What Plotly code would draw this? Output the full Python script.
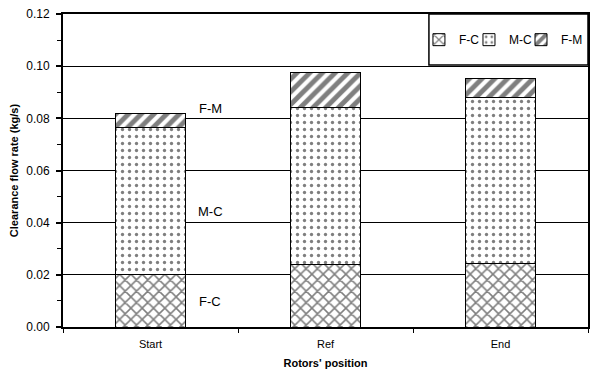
import plotly.graph_objects as go

categories = ["Start", "Ref", "End"]
fc = [0.0202, 0.0238, 0.0245]
mc = [0.0564, 0.0604, 0.0633]
fm = [0.0051, 0.0132, 0.0073]
y_ticks = [0.00, 0.02, 0.04, 0.06, 0.08, 0.10, 0.12]

FONT = "Liberation Sans, Arial, sans-serif"

fig = go.Figure()
series = [("F-C", fc, "x", 0.35, 8, "legend"), ("M-C", mc, ".", 0.18, 7, "legend2"),
          ("F-M", fm, "/", 0.55, 9, "legend3")]
for name, vals, shape, sol, size, leg in series:
    fig.add_trace(go.Bar(
        x=categories, y=vals, name=name, legend=leg,
        marker=dict(color="white",
                    line=dict(color="black", width=1),
                    pattern=dict(shape=shape, fgcolor="black", bgcolor="white",
                                 solidity=sol, size=size)),
    ))

for txt, yv in [("F-M", 0.0837), ("M-C", 0.0443), ("F-C", 0.0096)]:
    fig.add_annotation(x=0.34, y=yv, xref="x", yref="y", text=txt, showarrow=False,
                       xanchor="center", font=dict(size=13, color="black", family=FONT))

# legend frame
fig.add_shape(type="rect", xref="paper", yref="paper", x0=0.697, x1=1.0, y0=0.837, y1=1.0,
              line=dict(color="black", width=1.5), fillcolor="white", layer="above")

def leg(xpos):
    return dict(orientation="h", x=xpos, xanchor="left", y=0.918, yanchor="middle",
                borderwidth=0, bgcolor="rgba(0,0,0,0)", font=dict(size=12),
                itemwidth=30)

fig.update_layout(
    width=591, height=372,
    margin=dict(l=63, r=3, t=14, b=45, autoexpand=False),
    barmode="stack", bargap=0.6,
    plot_bgcolor="white", paper_bgcolor="white",
    font=dict(family=FONT, size=11, color="black"),
    showlegend=True,
    legend=leg(0.678), legend2=leg(0.7733), legend3=leg(0.8724),
    xaxis=dict(showline=True, linecolor="black", linewidth=2, mirror=True,
               ticks="outside", tickson="boundaries", ticklen=4, tickwidth=1,
               tickcolor="black", showgrid=False, ticklabelstandoff=6,
               tickfont=dict(size=11),
               title=dict(text="<b>Rotors' position</b>", font=dict(size=11), standoff=10)),
    yaxis=dict(range=[0, 0.12], tickvals=y_ticks, tickformat=".2f",
               showline=True, linecolor="black", linewidth=2, mirror=True,
               ticks="outside", ticklen=5, tickwidth=2, tickcolor="black",
               showgrid=True, gridcolor="black", gridwidth=1,
               minor=dict(ticks="outside", dtick=0.01, ticklen=4, tickwidth=1,
                          tickcolor="black", showgrid=False),
               zeroline=False, tickfont=dict(size=12), ticklabelstandoff=4,
               title=dict(text="<b>Clearance flow rate (kg/s)</b>", font=dict(size=11), standoff=5)),
)

fig.write_html("out.html")
